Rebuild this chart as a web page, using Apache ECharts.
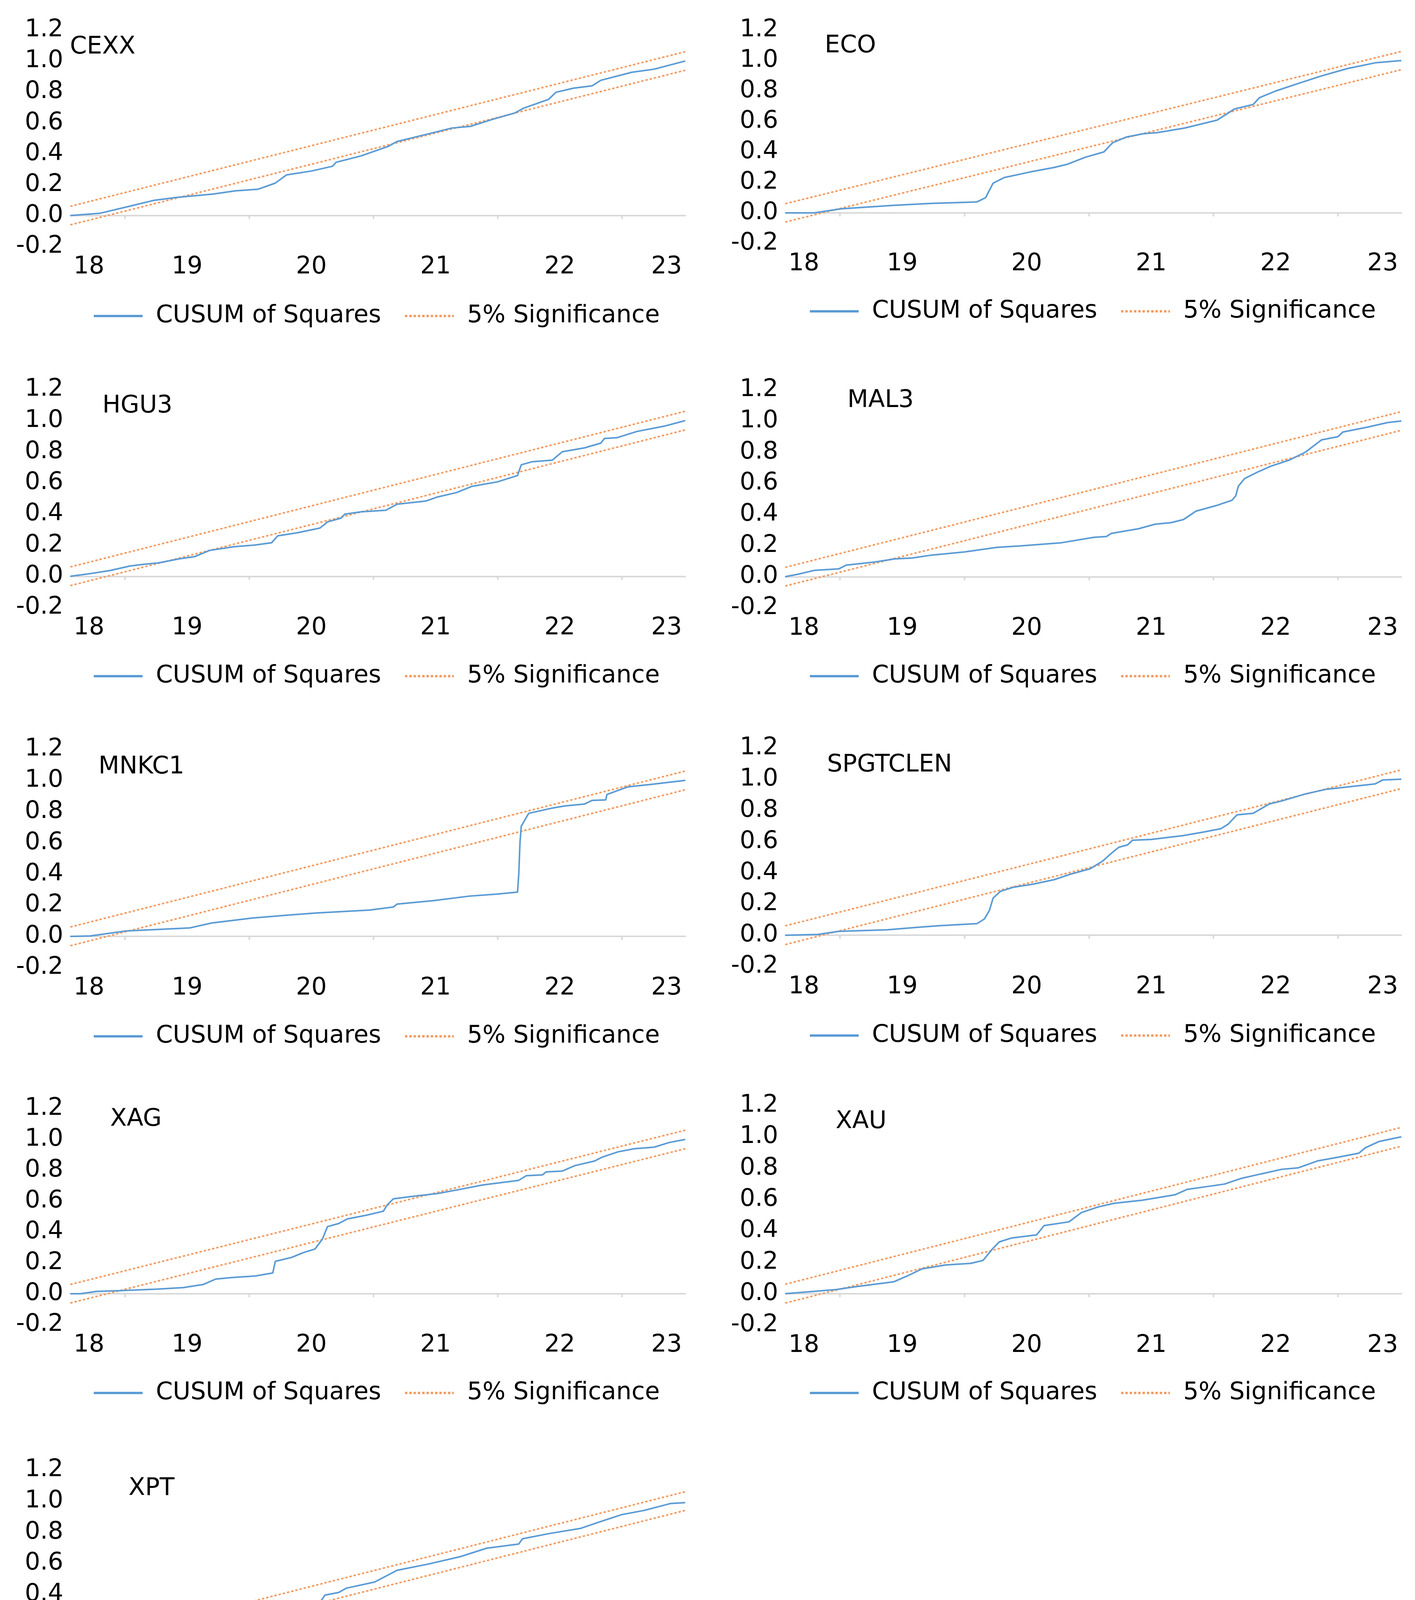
<!DOCTYPE html>
<html>
<head>
<meta charset="utf-8">
<script src="https://cdn.jsdelivr.net/npm/echarts@6/dist/echarts.min.js"></script>
<style>
  html, body { margin: 0; padding: 0; background: #fff; }
  #chart { width: 3622px; height: 4544px; }
</style>
</head>
<body>
<div id="chart"></div>
<script>
// ---------- DATA (x = years since 2000, y = CUSUM of squares) ----------
const panelNames = ['CEXX', 'ECO', 'HGU3', 'MAL3', 'MNKC1', 'SPGTCLEN', 'XAG', 'XAU', 'XPT'];
const xTickLabels = ['18', '19', '20', '21', '22', '23'];
const yearBoundaries = [19, 20, 21, 22, 23];
const sampleStart = 18.56;
const sampleEnd = 23.51;
const upperBound = [0.06, 1.06];   // 5% significance, start / end
const lowerBound = [-0.06, 0.94];

const cexx = [[18.56,0.0],[18.80,0.015],[19.02,0.057],[19.23,0.098],[19.42,0.118],[19.71,0.139],[19.89,0.16],[20.07,0.17],[20.21,0.21],[20.30,0.263],[20.50,0.288],[20.67,0.319],[20.70,0.345],[20.90,0.386],[21.12,0.448],[21.19,0.479],[21.45,0.53],[21.63,0.566],[21.78,0.577],[21.96,0.623],[22.14,0.664],[22.21,0.695],[22.41,0.752],[22.47,0.798],[22.61,0.824],[22.76,0.839],[22.83,0.875],[23.08,0.927],[23.26,0.947],[23.51,1.0]];
const eco = [[18.56,0.0],[18.79,0.0],[19.01,0.027],[19.44,0.05],[19.73,0.062],[20.10,0.072],[20.17,0.10],[20.23,0.195],[20.32,0.232],[20.53,0.269],[20.72,0.298],[20.83,0.32],[20.97,0.365],[21.12,0.40],[21.19,0.46],[21.30,0.498],[21.44,0.52],[21.55,0.527],[21.77,0.557],[22.03,0.609],[22.17,0.682],[22.32,0.712],[22.37,0.756],[22.50,0.80],[22.64,0.838],[22.86,0.897],[23.08,0.948],[23.30,0.985],[23.51,1.0]];
const hgu3 = [[18.56,0.0],[18.72,0.017],[18.88,0.037],[19.04,0.066],[19.14,0.076],[19.27,0.086],[19.43,0.111],[19.56,0.126],[19.68,0.166],[19.88,0.19],[20.04,0.20],[20.18,0.215],[20.23,0.26],[20.39,0.28],[20.57,0.31],[20.63,0.349],[20.74,0.374],[20.77,0.399],[20.90,0.414],[21.10,0.424],[21.19,0.463],[21.42,0.483],[21.51,0.508],[21.67,0.538],[21.79,0.577],[22.00,0.607],[22.16,0.647],[22.19,0.716],[22.28,0.736],[22.44,0.746],[22.52,0.80],[22.70,0.825],[22.83,0.855],[22.86,0.885],[22.96,0.89],[23.12,0.93],[23.34,0.964],[23.51,1.0]];
const mal3 = [[18.56,0.0],[18.66,0.015],[18.79,0.04],[18.99,0.05],[19.05,0.074],[19.28,0.094],[19.44,0.114],[19.58,0.12],[19.74,0.139],[20.00,0.159],[20.26,0.188],[20.46,0.198],[20.78,0.218],[21.04,0.253],[21.14,0.258],[21.18,0.278],[21.40,0.308],[21.53,0.337],[21.66,0.347],[21.76,0.367],[21.86,0.421],[22.02,0.456],[22.15,0.491],[22.18,0.52],[22.20,0.58],[22.25,0.63],[22.35,0.67],[22.46,0.709],[22.61,0.749],[22.74,0.80],[22.87,0.879],[23.00,0.899],[23.04,0.929],[23.23,0.959],[23.40,0.99],[23.51,1.0]];
const mnkc1 = [[18.56,0.0],[18.72,0.003],[19.01,0.035],[19.52,0.054],[19.70,0.086],[20.03,0.118],[20.32,0.137],[20.54,0.15],[20.97,0.169],[21.16,0.188],[21.19,0.207],[21.48,0.229],[21.77,0.258],[21.99,0.271],[22.16,0.284],[22.17,0.40],[22.18,0.604],[22.19,0.706],[22.25,0.789],[22.43,0.821],[22.54,0.836],[22.70,0.849],[22.76,0.872],[22.87,0.875],[22.88,0.91],[23.05,0.959],[23.23,0.974],[23.51,1.0]];
const spgtclen = [[18.56,0.0],[18.82,0.005],[18.99,0.025],[19.38,0.035],[19.61,0.05],[19.80,0.061],[20.10,0.074],[20.16,0.104],[20.20,0.158],[20.23,0.238],[20.29,0.282],[20.39,0.307],[20.55,0.327],[20.72,0.356],[20.85,0.391],[21.01,0.426],[21.11,0.475],[21.18,0.525],[21.24,0.564],[21.31,0.579],[21.35,0.609],[21.50,0.614],[21.76,0.639],[21.93,0.663],[22.06,0.683],[22.12,0.713],[22.19,0.772],[22.32,0.782],[22.45,0.842],[22.55,0.861],[22.74,0.906],[22.91,0.936],[23.13,0.955],[23.30,0.97],[23.36,0.995],[23.51,1.0]];
const xag = [[18.56,0.0],[18.64,0.0],[18.77,0.015],[18.96,0.02],[19.25,0.03],[19.47,0.04],[19.63,0.06],[19.73,0.095],[19.86,0.105],[20.05,0.115],[20.19,0.135],[20.21,0.21],[20.34,0.235],[20.43,0.265],[20.53,0.29],[20.59,0.355],[20.63,0.435],[20.72,0.455],[20.79,0.485],[20.95,0.51],[21.08,0.535],[21.11,0.575],[21.16,0.615],[21.30,0.63],[21.52,0.65],[21.72,0.68],[21.88,0.705],[22.17,0.735],[22.23,0.765],[22.36,0.77],[22.39,0.79],[22.52,0.795],[22.62,0.83],[22.78,0.86],[22.84,0.885],[22.97,0.92],[23.10,0.94],[23.26,0.95],[23.38,0.98],[23.51,1.0]];
const xau = [[18.56,0.0],[18.74,0.011],[18.97,0.026],[19.13,0.045],[19.43,0.075],[19.53,0.109],[19.66,0.158],[19.85,0.183],[20.05,0.193],[20.15,0.212],[20.22,0.281],[20.28,0.33],[20.38,0.355],[20.58,0.375],[20.64,0.434],[20.84,0.458],[20.94,0.517],[21.07,0.552],[21.20,0.576],[21.43,0.596],[21.69,0.63],[21.79,0.665],[21.96,0.684],[22.09,0.699],[22.22,0.734],[22.38,0.763],[22.55,0.793],[22.68,0.802],[22.84,0.847],[23.01,0.871],[23.17,0.896],[23.22,0.93],[23.33,0.97],[23.51,1.0]];
const xpt = [[18.56,0.0],[18.66,0.018],[18.99,0.034],[19.24,0.061],[19.53,0.088],[19.68,0.10],[19.78,0.122],[20.00,0.142],[20.16,0.162],[20.19,0.176],[20.22,0.311],[20.29,0.325],[20.51,0.352],[20.58,0.361],[20.61,0.396],[20.72,0.413],[20.78,0.44],[21.01,0.48],[21.19,0.555],[21.44,0.595],[21.70,0.643],[21.91,0.697],[22.17,0.724],[22.20,0.758],[22.42,0.792],[22.67,0.825],[22.82,0.866],[23.00,0.913],[23.18,0.94],[23.39,0.984],[23.51,0.99]];
const cusumSeries = [cexx, eco, hgu3, mal3, mnkc1, spgtclen, xag, xau, xpt];

// ---------- LAYOUT ----------
const FONT = 'DejaVu Sans';
const FS = 62;
const labelPositions = [18.71, 19.5, 20.5, 21.5, 22.5, 23.36]; // where the year labels sit
const layout = [
  { left: 180,  width: 1574, top: 77,   height: 554, tx: 179,  ty: 121,  lx: 232,  ly: 795 },
  { left: 2010, width: 1577, top: 77,   height: 546, tx: 2111, ty: 118,  lx: 2065, ly: 783 },
  { left: 180,  width: 1574, top: 997,  height: 558, tx: 262,  ty: 1040, lx: 232,  ly: 1717 },
  { left: 2010, width: 1577, top: 998,  height: 558, tx: 2169, ty: 1026, lx: 2065, ly: 1717 },
  { left: 180,  width: 1574, top: 1918, height: 559, tx: 252,  ty: 1964, lx: 232,  ly: 2639 },
  { left: 2010, width: 1577, top: 1915, height: 559, tx: 2117, ty: 1959, lx: 2065, ly: 2637 },
  { left: 180,  width: 1574, top: 2838, height: 553, tx: 282,  ty: 2866, lx: 232,  ly: 3552 },
  { left: 2010, width: 1577, top: 2830, height: 562, tx: 2139, ty: 2872, lx: 2065, ly: 3552 },
  { left: 180,  width: 1574, top: 3763, height: 558, tx: 329,  ty: 3811, lx: 232,  ly: 4489 }
];

const BLUE = '#5B9BD5';
const ORANGE = '#F39A5E';

const option = {
  animation: false,
  backgroundColor: '#ffffff',
  title: [], grid: [], xAxis: [], yAxis: [], legend: [], series: []
};

panelNames.forEach((name, i) => {
  const L = layout[i];
  option.grid.push({ left: L.left, top: L.top, width: L.width, height: L.height, containLabel: false });
  option.title.push({
    text: name, left: L.tx, top: L.ty - 36,
    textStyle: { fontFamily: FONT, fontSize: FS, fontWeight: 'normal', color: '#000', lineHeight: 72 },
    padding: 0
  });
  // axis line on zero with year-boundary ticks
  option.xAxis.push({
    type: 'value', gridIndex: i, min: sampleStart, max: sampleEnd, position: 'bottom',
    axisLine: { show: true, onZero: true, lineStyle: { color: '#d9d9d9', width: 4 } },
    axisTick: { show: true, customValues: yearBoundaries, length: 9, lineStyle: { color: '#d9d9d9', width: 4 } },
    axisLabel: { show: false, customValues: yearBoundaries },
    splitLine: { show: false }
  });
  // labels at bottom
  option.xAxis.push({
    type: 'value', gridIndex: i, min: sampleStart, max: sampleEnd, position: 'bottom',
    axisLine: { show: false, onZero: false },
    axisTick: { show: false },
    splitLine: { show: false },
    axisLabel: {
      show: true, customValues: labelPositions, margin: 22,
      formatter: v => xTickLabels[Math.floor(v + 1e-9) - 18],
      fontFamily: FONT, fontSize: FS, color: '#000'
    }
  });
  option.yAxis.push({
    type: 'value', gridIndex: i, min: -0.2, max: 1.2, interval: 0.2,
    axisLine: { show: false }, axisTick: { show: false }, splitLine: { show: false },
    axisLabel: {
      margin: 18, fontFamily: FONT, fontSize: FS, color: '#000',
      formatter: v => (Math.abs(v) < 1e-9 ? 0 : v).toFixed(1)
    }
  });
  option.legend.push({
    left: L.lx, top: L.ly - 22, orient: 'horizontal',
    itemWidth: 125, itemHeight: 10, itemGap: 58,
    data: ['CUSUM of Squares', '5% Significance'],
    textStyle: { fontFamily: FONT, fontSize: FS, color: '#000', padding: [0, 0, 0, 29] },
    lineStyle: { width: 6 },
    itemStyle: { opacity: 0 },
    selectedMode: false
  });
  option.series.push({
    name: '5% Significance', type: 'line', xAxisIndex: 2 * i, yAxisIndex: i,
    data: [[sampleStart, upperBound[0]], [sampleEnd, upperBound[1]]],
    symbol: 'none', z: 2,
    lineStyle: { color: ORANGE, width: 4, type: [6, 5] }, itemStyle: { color: ORANGE }
  });
  option.series.push({
    name: '5% Significance', type: 'line', xAxisIndex: 2 * i, yAxisIndex: i,
    data: [[sampleStart, lowerBound[0]], [sampleEnd, lowerBound[1]]],
    symbol: 'none', z: 2,
    lineStyle: { color: ORANGE, width: 4, type: [6, 5] }, itemStyle: { color: ORANGE }
  });
  option.series.push({
    name: 'CUSUM of Squares', type: 'line', xAxisIndex: 2 * i, yAxisIndex: i,
    data: cusumSeries[i], symbol: 'none', z: 3,
    lineStyle: { color: BLUE, width: 4 }, itemStyle: { color: BLUE }
  });
});

const chart = echarts.init(document.getElementById('chart'), null, { renderer: 'canvas', width: 3622, height: 4544 });
chart.setOption(option);
</script>
</body>
</html>
